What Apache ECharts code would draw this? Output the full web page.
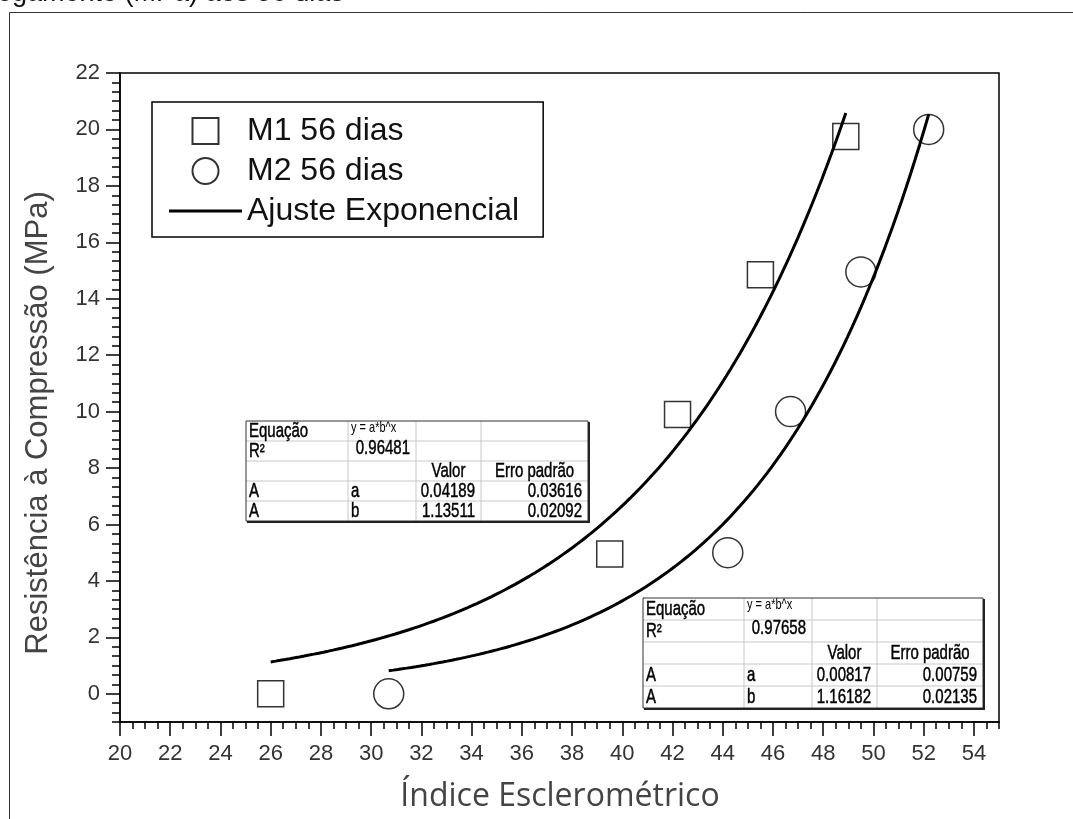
<!DOCTYPE html>
<html>
<head>
<meta charset="utf-8">
<script src="https://cdn.jsdelivr.net/npm/echarts@6/dist/echarts.min.js"></script>
<style>
  html, body { margin: 0; padding: 0; background: #fff; }
  #chart { width: 1073px; height: 819px; }
</style>
</head>
<body>
<div id="chart"></div>
<script>
// Measured compressive strength vs rebound index, 56 days
const m1X = [26.0, 39.5, 42.2, 45.5, 48.9];
const m1Y = [0, 4.95, 9.9, 14.85, 19.75];
const m2X = [30.7, 44.2, 46.7, 49.5, 52.2];
const m2Y = [0, 5.0, 10.0, 14.95, 20.0];

// Exponential fit y = a*b^x : [a, b], standard errors and R²
const m1Fit = [0.04189, 1.13511];
const m1FitErr = [0.03616, 0.02092];
const m1R2 = 0.96481;
const m2Fit = [0.00817, 1.16182];
const m2FitErr = [0.00759, 0.02135];
const m2R2 = 0.97658;

// Axis tick labels
const xTickLabels = [20, 22, 24, 26, 28, 30, 32, 34, 36, 38, 40, 42, 44, 46, 48, 50, 52, 54];
const yTickLabels = [0, 2, 4, 6, 8, 10, 12, 14, 16, 18, 20, 22];

const FONT = '"Liberation Sans", Arial, sans-serif';

// minor tick positions (x every 0.5, y every 1/3)
const xMinor = [];
for (let k = 0; k <= 70; k++) xMinor.push(20 + k * 0.5);
const yMinor = [];
for (let k = 0; k <= 69; k++) yMinor.push(-1 + k / 3);

// fitted curve over the measured range of each series
function fitCurve(xs, p) {
  const lo = Math.min.apply(null, xs), hi = Math.max.apply(null, xs);
  const n = 120, pts = [];
  for (let i = 0; i <= n; i++) {
    const x = lo + (hi - lo) * i / n;
    pts.push([x, p[0] * Math.pow(p[1], x)]);
  }
  return pts;
}
const zip = (a, b) => a.map((v, i) => [v, b[i]]);

// results table drawn as graphic elements
function buildTable(left, top, colW, rowH, fit, err, r2) {
  const xs = [left];
  colW.forEach(w => xs.push(xs[xs.length - 1] + w));
  const W = xs[4] - left, H = rowH * 5;
  const els = [];
  els.push({ type: 'rect', shape: { x: left, y: top, width: W, height: H }, style: { fill: '#fff' } });
  for (let r = 1; r < 5; r++) {
    els.push({ type: 'line', shape: { x1: left, y1: top + r * rowH, x2: xs[4], y2: top + r * rowH },
      style: { stroke: '#c8c8c8', lineWidth: 1 } });
  }
  for (let c = 1; c < 4; c++) {
    els.push({ type: 'line', shape: { x1: xs[c], y1: top, x2: xs[c], y2: top + H },
      style: { stroke: '#c8c8c8', lineWidth: 1 } });
  }
  els.push({ type: 'rect', shape: { x: left, y: top, width: W, height: H },
    style: { fill: 'none', stroke: '#333', lineWidth: 1 } });
  els.push({ type: 'polyline', shape: { points: [[xs[4] + 1, top + 1], [xs[4] + 1, top + H + 1], [left + 1, top + H + 1]] },
    style: { fill: 'none', stroke: '#222', lineWidth: 2 } });

  const cells = [
    [0, 0, 'Equação', 'left'],
    [1, 0, 'R²', 'left'],
    [1, 1, r2.toFixed(5), 'right', -3],
    [2, 2, 'Valor', 'center'],
    [2, 3, 'Erro padrão', 'center'],
    [3, 0, 'A', 'left'],
    [3, 1, 'a', 'left'],
    [3, 2, fit[0].toFixed(5), 'right'],
    [3, 3, err[0].toFixed(5), 'right'],
    [4, 0, 'A', 'left'],
    [4, 1, 'b', 'left'],
    [4, 2, fit[1].toFixed(5), 'right'],
    [4, 3, err[1].toFixed(5), 'right']
  ];
  cells.forEach(c => {
    const [r, col, txt, al, dy] = c;
    let x = xs[col] + 3;
    if (al === 'right') x = xs[col + 1] - 6;
    if (al === 'center') x = (xs[col] + xs[col + 1]) / 2;
    els.push({
      type: 'text', x: x, y: top + r * rowH + rowH / 2 + 1 + (dy || 0), scaleY: 1.3,
      style: { text: txt, fill: '#000', stroke: '#000', lineWidth: 0.35, font: '15px ' + FONT,
        align: al, verticalAlign: 'middle', textAlign: al, textVerticalAlign: 'middle' }
    });
  });
  els.push({
    type: 'text', x: xs[1] + 3, y: top + 7, scaleY: 1.3,
    style: { text: 'y = a*b^x', fill: '#000', font: '11px ' + FONT, align: 'left', verticalAlign: 'middle',
      textAlign: 'left', textVerticalAlign: 'middle' }
  });
  return { type: 'group', z: 100, children: els };
}

const chart = echarts.init(document.getElementById('chart'), null, { renderer: 'canvas' });

const axisCommon = {
  type: 'value',
  splitLine: { show: false },
  axisLine: { show: true, onZero: false, lineStyle: { color: '#000', width: 1.5 } }
};

chart.setOption({
  animation: false,
  backgroundColor: '#fff',
  grid: {
    left: 120, top: 73, width: 879, height: 649,
    show: true, borderColor: '#000', borderWidth: 1.5, backgroundColor: 'transparent'
  },
  legend: {
    orient: 'vertical', left: 152, top: 102,
    itemWidth: 73, itemHeight: 26, itemGap: 8,
    padding: [13, 24, 10, 17],
    borderColor: '#000', borderWidth: 1.5,
    selectedMode: false,
    symbolKeepAspect: true,
    textStyle: { fontSize: 32, fontFamily: FONT, color: '#111', lineHeight: 30 },
    data: [
      { name: 'M1 56 dias', icon: 'path://M0,0L10,0L10,10L0,10Z' },
      { name: 'M2 56 dias', icon: 'circle' },
      { name: 'Ajuste Exponencial', icon: 'path://M0,0L73,0L73,3L0,3Z' }
    ]
  },
  xAxis: [
    Object.assign({}, axisCommon, {
      min: 20, max: 55, position: 'bottom',
      axisTick: { show: true, length: 14, customValues: xTickLabels, lineStyle: { color: '#000', width: 1.5 } },
      axisLabel: { customValues: xTickLabels, fontSize: 22, fontFamily: FONT, color: '#333', margin: 21 }
    }),
    {
      type: 'value', min: 20, max: 55, position: 'bottom',
      splitLine: { show: false }, axisLine: { show: false, onZero: false },
      axisTick: { show: true, length: 7, customValues: xMinor, lineStyle: { color: '#000', width: 1.5 } },
      axisLabel: { show: false }
    }
  ],
  yAxis: [
    Object.assign({}, axisCommon, {
      min: -1, max: 22, position: 'left',
      axisTick: { show: true, length: 14, customValues: yTickLabels, lineStyle: { color: '#000', width: 1.5 } },
      axisLabel: { customValues: yTickLabels, fontSize: 22, fontFamily: FONT, color: '#333', margin: 20 }
    }),
    {
      type: 'value', min: -1, max: 22, position: 'left',
      splitLine: { show: false }, axisLine: { show: false, onZero: false },
      axisTick: { show: true, length: 8, customValues: yMinor, lineStyle: { color: '#000', width: 1.5 } },
      axisLabel: { show: false }
    }
  ],
  series: [
    {
      name: 'Ajuste Exponencial', type: 'line', data: fitCurve(m1X, m1Fit),
      symbol: 'none', showSymbol: false, lineStyle: { color: '#000', width: 3 }, itemStyle: { color: '#000' }, z: 3
    },
    {
      name: 'Ajuste Exponencial', type: 'line', data: fitCurve(m2X, m2Fit),
      symbol: 'none', showSymbol: false, lineStyle: { color: '#000', width: 3 }, itemStyle: { color: '#000' }, z: 3
    },
    {
      name: 'M1 56 dias', type: 'scatter', data: zip(m1X, m1Y),
      symbol: 'rect', symbolSize: 26,
      itemStyle: { color: 'rgba(255,255,255,0)', borderColor: '#000', borderWidth: 1.5 }, z: 2
    },
    {
      name: 'M2 56 dias', type: 'scatter', data: zip(m2X, m2Y),
      symbol: 'circle', symbolSize: 30,
      itemStyle: { color: 'rgba(255,255,255,0)', borderColor: '#000', borderWidth: 1.5 }, z: 2
    }
  ],
  graphic: [
    { type: 'rect', z: -10, shape: { x: 9.5, y: 12.5, width: 1100, height: 900 },
      style: { fill: 'none', stroke: '#333', lineWidth: 1 } },
    { type: 'text', x: -3, y: -6,
      style: { text: 'egamento (MPa) aos 56 dias', fill: '#111', font: '27px ' + FONT,
        align: 'left', verticalAlign: 'middle', textAlign: 'left', textVerticalAlign: 'middle' } },
    { type: 'text', x: 38, y: 423, rotation: Math.PI / 2,
      style: { text: 'Resistência à Compressão (MPa)', fill: '#444', font: '31px ' + FONT,
        align: 'center', verticalAlign: 'middle', textAlign: 'center', textVerticalAlign: 'middle' } },
    { type: 'text', x: 560, y: 797,
      style: { text: 'Índice Esclerométrico', fill: '#444', font: '32px "Open Sans", sans-serif',
        align: 'center', verticalAlign: 'middle', textAlign: 'center', textVerticalAlign: 'middle' } },
    buildTable(246, 421, [102, 68, 65, 107], 20, m1Fit, m1FitErr, m1R2),
    buildTable(643, 598, [101, 68, 65, 106], 22, m2Fit, m2FitErr, m2R2)
  ]
});
</script>
</body>
</html>
